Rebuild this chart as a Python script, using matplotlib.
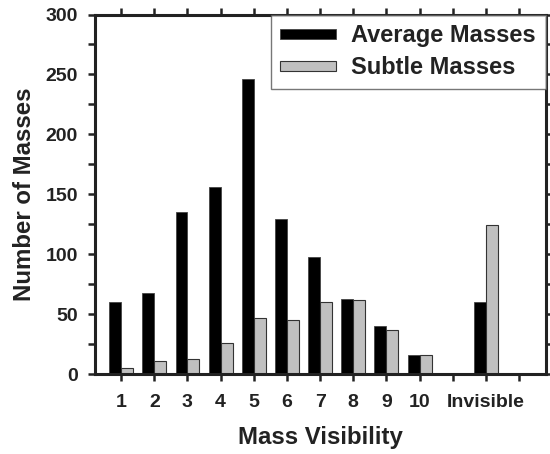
import matplotlib
matplotlib.use("Agg")
import matplotlib.pyplot as plt
import numpy as np

plt.rcParams["font.family"] = ["Liberation Sans", "DejaVu Sans"]
plt.rcParams["font.weight"] = "bold"

categories = ["1", "2", "3", "4", "5", "6", "7", "8", "9", "10", "", "Invisible", ""]
average = [60, 68, 135, 156, 246, 129, 98, 63, 40, 16, 0, 60, 0]
subtle = [5, 11, 13, 26, 47, 45, 60, 62, 37, 16, 0, 124, 0]

x = np.arange(1, len(categories) + 1)
w = 0.36

fig = plt.figure(figsize=(5.5, 4.54), dpi=100)
ax = fig.add_axes([0.172, 0.176, 0.820, 0.792])

has = np.array(average) > 0
ax.bar(x[has] - w / 2, np.array(average)[has], w, color="black",
       edgecolor="#444444", linewidth=0.6, label="Average Masses")
has = np.array(subtle) > 0
ax.bar(x[has] + w / 2, np.array(subtle)[has], w, color="#c0c0c0",
       edgecolor="#333333", linewidth=0.8, label="Subtle Masses")

ax.set_xlim(0.2, 13.8)
ax.set_ylim(0, 300)
ax.set_xticks(x)
ax.set_xticklabels(categories, fontsize=14, fontweight="bold", color="#222222")
ax.set_yticks(np.arange(0, 301, 25))
ax.set_yticklabels([str(v) if v % 50 == 0 else "" for v in range(0, 301, 25)],
                   fontsize=14, fontweight="bold", color="#222222")
ax.tick_params(direction="out", length=5, width=1.8, color="#222222",
               top=True, right=True, labeltop=False, labelright=False, pad=7)
ax.tick_params(axis="x", pad=9)

for s in ax.spines.values():
    s.set_linewidth(2.2)
    s.set_color("#222222")

ax.set_xlabel("Mass Visibility", fontsize=17.3, fontweight="bold", labelpad=11,
              color="#222222")
ax.set_ylabel("Number of Masses", fontsize=17.3, fontweight="bold", labelpad=7,
              color="#222222")

leg = ax.legend(loc="upper right", fontsize=17, frameon=True, fancybox=False,
                borderaxespad=0, handlelength=2.37, handleheight=0.3,
                handletextpad=0.62, labelspacing=0.38, borderpad=0.42)
leg.get_frame().set_edgecolor("#555555")
leg.get_frame().set_linewidth(1.0)
for t in leg.get_texts():
    t.set_fontweight("bold")
    t.set_color("#222222")

fig.savefig("out.png", dpi=100, facecolor="white")
